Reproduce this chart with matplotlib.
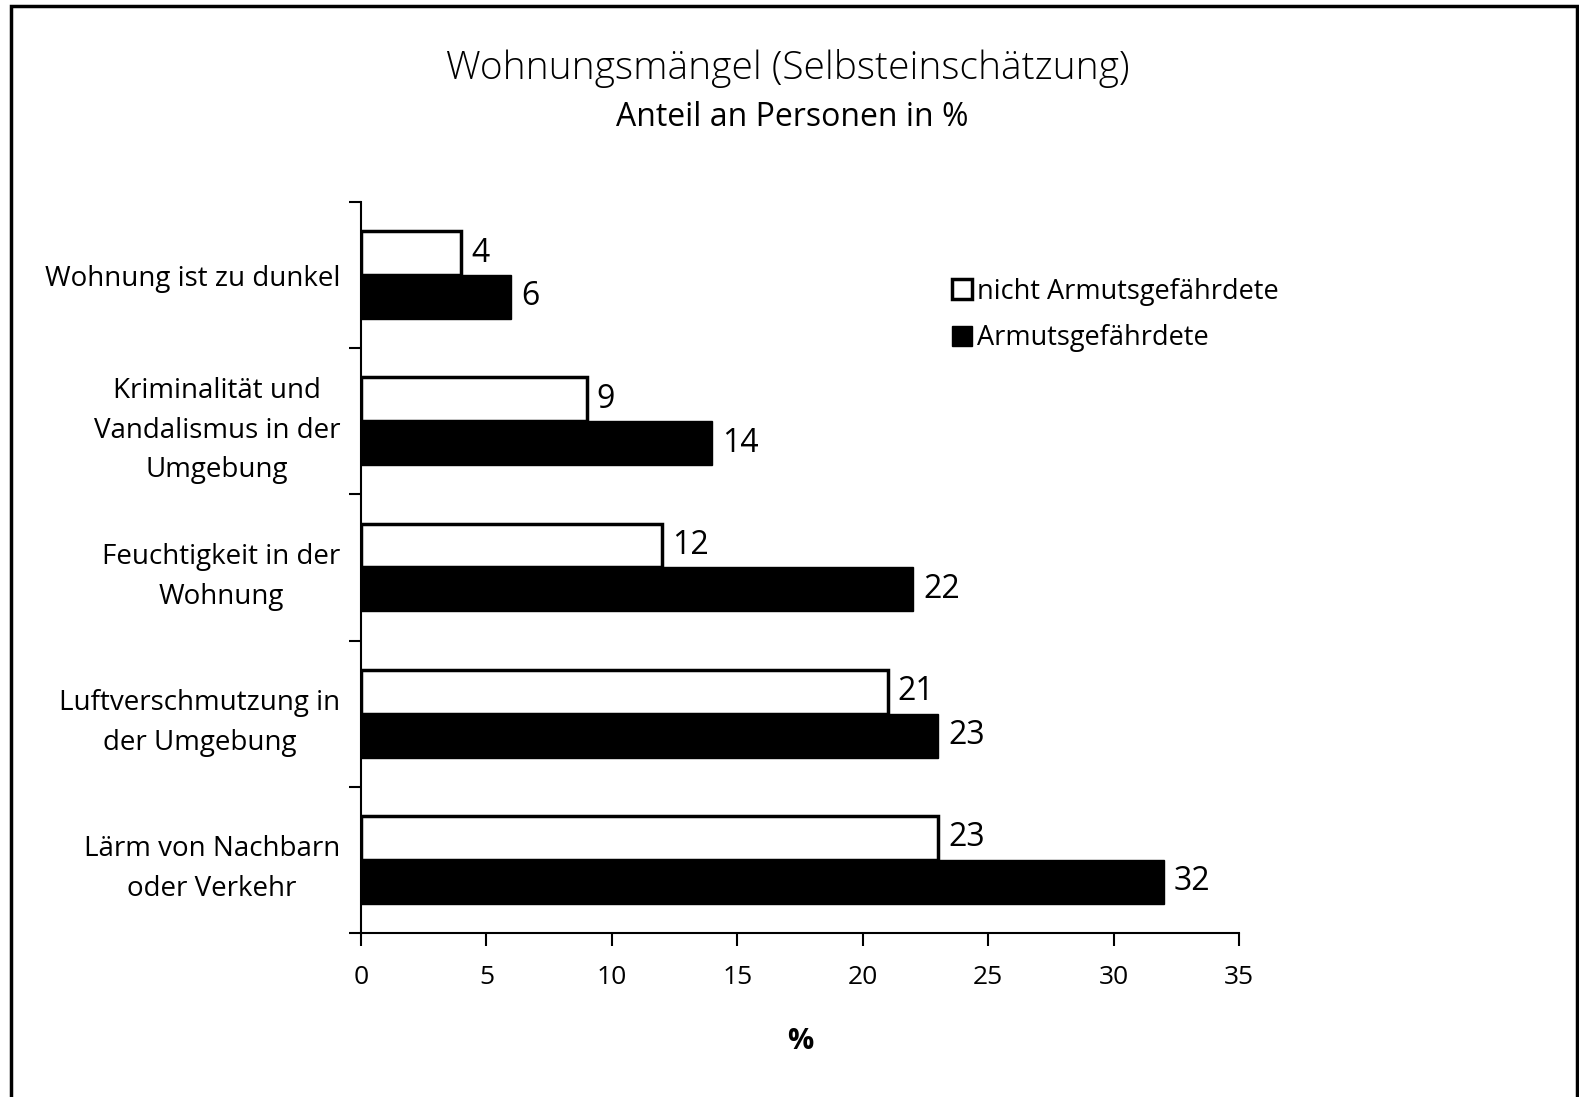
import matplotlib.pyplot as plt
from matplotlib.patches import Rectangle
import numpy as np

plt.rcParams['font.family'] = ['Open Sans', 'DejaVu Sans']

categories = [
    "Wohnung ist zu dunkel",
    "Kriminalität und\nVandalismus in der\nUmgebung",
    "Feuchtigkeit in der\nWohnung",
    "Luftverschmutzung in\nder Umgebung",
    "Lärm von Nachbarn\noder Verkehr",
]
nicht_armut = [4, 9, 12, 21, 23]
armut = [6, 14, 22, 23, 32]
xticks = [0, 5, 10, 15, 20, 25, 30, 35]

fig = plt.figure(figsize=(15.79, 10.97), dpi=100)
ax = fig.add_axes([0.2286, 0.1495, 0.5561, 0.6664])

y = np.arange(len(categories))[::-1]
h = 0.3
ax.barh(y + h / 2, nicht_armut, height=h, color='white', edgecolor='black',
        linewidth=2.5, label='nicht Armutsgefährdete')
ax.barh(y - h / 2, armut, height=h, color='black', edgecolor='black',
        linewidth=1, label='Armutsgefährdete')

for yi, v in zip(y, nicht_armut):
    ax.text(v + 0.4, yi + h / 2, str(v), va='center', ha='left', fontsize=23)
for yi, v in zip(y, armut):
    ax.text(v + 0.4, yi - h / 2, str(v), va='center', ha='left', fontsize=23)

ax.set_xlim(0, 35)
ax.set_ylim(-0.5, 4.5)
ax.set_xticks(xticks)
ax.set_xticklabels([str(t) for t in xticks], fontsize=19)
ax.tick_params(axis='x', direction='out', length=9, width=1.5, pad=14)

# ticks between the category groups, labels at the group centres
ax.set_yticks(np.arange(-0.5, 5, 1))
ax.set_yticklabels([])
ax.set_yticks(y, minor=True)
ax.set_yticklabels(categories, minor=True, fontsize=20,
                   multialignment='center', linespacing=1.55)
ax.tick_params(axis='y', which='major', direction='out', length=9, width=1.5)
ax.tick_params(axis='y', which='minor', length=0, pad=15)

for s in ['top', 'right']:
    ax.spines[s].set_visible(False)
for s in ['left', 'bottom']:
    ax.spines[s].set_linewidth(1.5)

ax.set_xlabel('%', fontsize=21, fontweight='bold', labelpad=27)

fig.text(0.499, 0.938, 'Wohnungsmängel (Selbsteinschätzung)', ha='center',
         va='center', fontsize=28, fontweight='light')
fig.text(0.502, 0.893, 'Anteil an Personen in %', ha='center', va='center',
         fontsize=23)

leg = ax.legend(loc='upper left', bbox_to_anchor=(0.645, 0.93), frameon=False,
                fontsize=19.5, handlelength=0.75, handleheight=0.75,
                handletextpad=0.2, labelspacing=0.7)

fig.patches.append(Rectangle((11 / 1579, -0.02), 1566 / 1579, 1.02 - 6 / 1097,
                             transform=fig.transFigure, fill=False,
                             edgecolor='black', linewidth=2.5))

fig.savefig('out.png', dpi=100)
